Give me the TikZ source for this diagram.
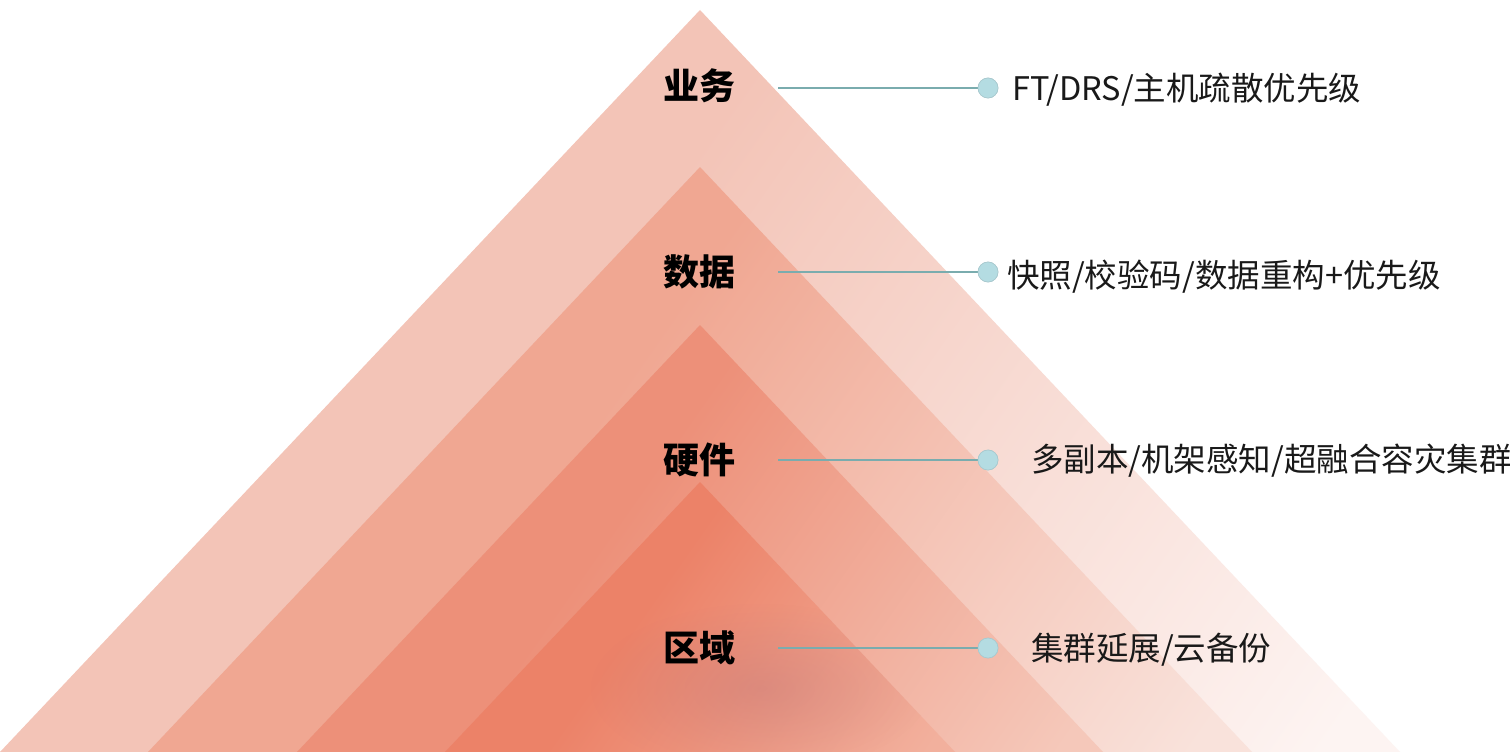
\documentclass[tikz,border=0pt]{standalone}
\usepackage{fontspec}
\usetikzlibrary{fadings}
\newfontfamily\cjk{Noto Sans CJK SC}
\definecolor{cA}{RGB}{243,196,183}
\definecolor{cAl}{RGB}{253,244,242}
\definecolor{cB}{RGB}{240,167,146}
\definecolor{cBl}{RGB}{249,226,219}
\definecolor{cC}{RGB}{237,144,121}
\definecolor{cCl}{RGB}{245,200,186}
\definecolor{cD}{RGB}{236,130,104}
\definecolor{cDl}{RGB}{242,176,157}
\definecolor{lineC}{RGB}{122,172,174}
\definecolor{dotC}{RGB}{180,220,226}
\definecolor{blobC}{RGB}{185,115,120}
\pgfdeclarehorizontalshading{shA}{100bp}{color(0bp)=(cA); color(44bp)=(cA); color(82bp)=(cAl); color(100bp)=(cAl)}
\pgfdeclarehorizontalshading{shB}{100bp}{color(0bp)=(cB); color(44bp)=(cB); color(82bp)=(cBl); color(100bp)=(cBl)}
\pgfdeclarehorizontalshading{shC}{100bp}{color(0bp)=(cC); color(44bp)=(cC); color(82bp)=(cCl); color(100bp)=(cCl)}
\pgfdeclarehorizontalshading{shD}{100bp}{color(0bp)=(cD); color(44bp)=(cD); color(82bp)=(cDl); color(100bp)=(cDl)}
\tikzfading[name=blobfade, inner color=transparent!0, outer color=transparent!100]
\tikzset{
  tri/.style={shading=#1, shading angle=-35},
  lvl/.style={font=\cjk\bfseries\fontsize{36}{40}\selectfont, text=black, inner sep=0pt},
  desc/.style={font=\cjk\fontsize{32.5}{36}\selectfont, text=black!90, anchor=west, inner sep=0pt},
  conn/.style={lineC, line width=2.2pt},
  dotn/.style={circle, fill=dotC, draw=dotC!80!gray, line width=0.6pt, minimum size=20pt, inner sep=0pt}
}
\begin{document}
\begin{tikzpicture}[x=1pt,y=-1pt]
\useasboundingbox (0,0) rectangle (1510,752);
\fill[white] (0,0) rectangle (1510,752);
% nested triangles
\shade[tri=shA] (700,10) -- (1400,752) -- (0,752) -- cycle;
\shade[tri=shB] (700,167) -- (1252,752) -- (148,752) -- cycle;
\shade[tri=shC] (700,325) -- (1103,752) -- (297,752) -- cycle;
\shade[tri=shD] (700,482) -- (955,752) -- (445,752) -- cycle;
\begin{scope}
\clip (700,482) -- (955,752) -- (445,752) -- cycle;
\fill[blobC, path fading=blobfade, opacity=0.35] (760,688) ellipse (170pt and 85pt);
\end{scope}
% labels
\node[lvl] (l1) at (699,86) {业务};
\node[lvl] (l2) at (699,272) {数据};
\node[lvl] (l3) at (699,460) {硬件};
\node[lvl] (l4) at (699,648) {区域};
% dots
\node[dotn] (d1) at (988,88) {};
\node[dotn] (d2) at (988,272) {};
\node[dotn] (d3) at (988,460) {};
\node[dotn] (d4) at (988,648) {};
\coordinate (s1) at (778,88);
\coordinate (s2) at (778,272);
\coordinate (s3) at (778,460);
\coordinate (s4) at (778,648);
\draw[conn] (s1) -- (d1.center);
\draw[conn] (s2) -- (d2.center);
\draw[conn] (s3) -- (d3.center);
\draw[conn] (s4) -- (d4.center);
\node[dotn] at (d1) {};
\node[dotn] at (d2) {};
\node[dotn] at (d3) {};
\node[dotn] at (d4) {};
% descriptions
\node[desc] (t1) at (1012,90) {FT/DRS/主机疏散优先级};
\node[desc] (t2) at (1007,277) {快照/校验码/数据重构+优先级};
\node[desc] (t3) at (1031,461) {多副本/机架感知/超融合容灾集群};
\node[desc] (t4) at (1031,650) {集群延展/云备份};
\end{tikzpicture}
\end{document}
